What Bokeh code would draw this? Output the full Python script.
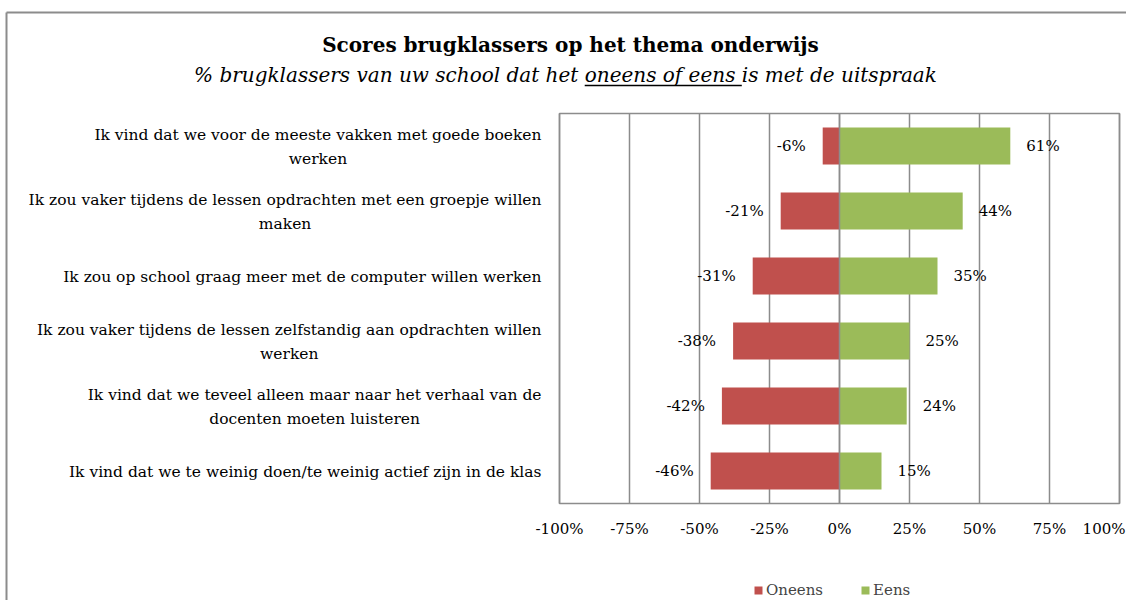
import glob, os, struct
from bokeh.plotting import figure
from bokeh.models import Range1d, Label, Legend, LegendItem, ColumnDataSource
from bokeh.core.properties import value
from bokeh.embed import file_html
from bokeh.resources import INLINE

# ---------------- data ----------------
statements = [
    "Ik vind dat we voor de meeste vakken met goede boeken\nwerken",
    "Ik zou vaker tijdens de lessen opdrachten met een groepje willen\nmaken",
    "Ik zou op school graag meer met de computer willen werken",
    "Ik zou vaker tijdens de lessen zelfstandig aan opdrachten willen\nwerken",
    "Ik vind dat we teveel alleen maar naar het verhaal van de\ndocenten moeten luisteren",
    "Ik vind dat we te weinig doen/te weinig actief zijn in de klas",
]
oneens = [-6, -21, -31, -38, -42, -46]
eens = [61, 44, 35, 25, 24, 15]
series_names = ["Oneens", "Eens"]
tick_values = [-100, -75, -50, -25, 0, 25, 50, 75, 100]
tick_labels = ["-100%", "-75%", "-50%", "-25%", "0%", "25%", "50%", "75%", "100%"]
title_text = "Scores brugklassers op het thema onderwijs"
subtitle_parts = ["% brugklassers van uw school dat het ", "oneens of eens ", "is met de uitspraak"]

# ---------------- styling ----------------
FONT = "DejaVu Serif"
RED = "#C0504D"
GREEN = "#9BBB59"
GRID = "#8c8c8c"
BORDER = "#8c8c8c"
W, H = 1126, 600
X0PX, PXU = 839.0, 2.8        # pixel of 0 % and pixels per %
Y_TOP, ROWPX = 113.0, 65.0    # pixel of plot-area top and row pitch


def xd(px):
    return (px - X0PX) / PXU


def yd(py):
    return 5.5 - (py - Y_TOP) / ROWPX


# ---------------- text measuring (pure python TTF reader) ----------------
def _find_font(name):
    for base in ["/usr/share/fonts", "/usr/local/share/fonts",
                 os.path.expanduser("~/.fonts"), os.path.expanduser("~/.local/share/fonts")]:
        hits = glob.glob(os.path.join(base, "**", name), recursive=True)
        if hits:
            return hits[0]
    return None


def _load_widths(path):
    data = open(path, "rb").read()
    n = struct.unpack(">H", data[4:6])[0]
    tables = {}
    for i in range(n):
        tag, cs, off, ln = struct.unpack(">4sIII", data[12 + 16 * i:28 + 16 * i])
        tables[tag.decode("latin1")] = off
    head = tables["head"]
    upem = struct.unpack(">H", data[head + 18:head + 20])[0]
    hhea = tables["hhea"]
    nhm = struct.unpack(">H", data[hhea + 34:hhea + 36])[0]
    hm = tables["hmtx"]
    adv = [struct.unpack(">H", data[hm + 4 * i:hm + 4 * i + 2])[0] for i in range(nhm)]
    cm = tables["cmap"]
    nsub = struct.unpack(">H", data[cm + 2:cm + 4])[0]
    sub = None
    for i in range(nsub):
        pid, eid, off = struct.unpack(">HHI", data[cm + 4 + 8 * i:cm + 12 + 8 * i])
        fmt = struct.unpack(">H", data[cm + off:cm + off + 2])[0]
        if fmt == 4:
            sub = cm + off
            break
    segx2 = struct.unpack(">H", data[sub + 6:sub + 8])[0]
    seg = segx2 // 2
    ends = struct.unpack(">%dH" % seg, data[sub + 14:sub + 14 + segx2])
    starts = struct.unpack(">%dH" % seg, data[sub + 16 + segx2:sub + 16 + 2 * segx2])
    deltas = struct.unpack(">%dh" % seg, data[sub + 16 + 2 * segx2:sub + 16 + 3 * segx2])
    rpos = sub + 16 + 3 * segx2
    roffs = struct.unpack(">%dH" % seg, data[rpos:rpos + segx2])

    def gid(c):
        for i in range(seg):
            if starts[i] <= c <= ends[i]:
                if roffs[i] == 0:
                    return (c + deltas[i]) & 0xFFFF
                addr = rpos + 2 * i + roffs[i] + 2 * (c - starts[i])
                g = struct.unpack(">H", data[addr:addr + 2])[0]
                return (g + deltas[i]) & 0xFFFF if g else 0
        return 0

    def width(text, size):
        return sum(adv[min(gid(ord(ch)), nhm - 1)] for ch in text) * size / upem
    return width


_measurers = {}


def measure(text, size, style="normal"):
    fname = {"normal": "DejaVuSerif.ttf", "bold": "DejaVuSerif-Bold.ttf",
             "italic": "DejaVuSerif-Italic.ttf"}[style]
    if fname not in _measurers:
        try:
            pth = _find_font(fname)
            _measurers[fname] = _load_widths(pth) if pth else None
        except Exception:
            _measurers[fname] = None
    m = _measurers[fname]
    if m is None:
        return len(text) * size * {"normal": 0.56, "bold": 0.62, "italic": 0.52}[style]
    return m(text, size)


# ---------------- figure ----------------
p = figure(width=W, height=H, output_backend="svg", toolbar_location=None,
           x_range=Range1d(xd(0), xd(W)), y_range=Range1d(yd(H), yd(0)),
           min_border=0)
p.title.visible = False
p.axis.visible = False
p.grid.visible = False
p.outline_line_color = None
p.background_fill_color = "white"
p.border_fill_color = "white"

n = len(statements)
ys = [n - 1 - i for i in range(n)]
y_lo, y_hi = -0.5, n - 0.5
x_lo, x_hi = tick_values[0], tick_values[-1]

# outer chart border (left and top edges are visible)
p.segment(x0=[xd(6), xd(6)], y0=[yd(12), yd(12)], x1=[xd(6), xd(W + 20)], y1=[yd(H + 20), yd(12)],
          line_color=BORDER, line_width=2)

# vertical gridlines
p.segment(x0=tick_values, y0=[y_lo] * len(tick_values), x1=tick_values, y1=[y_hi] * len(tick_values),
          line_color=GRID, line_width=1.5)

src = ColumnDataSource(dict(y=ys, neg=oneens, pos=eens,
                            neg_t=["%d%%" % v for v in oneens],
                            pos_t=["%d%%" % v for v in eens]))

r_neg = p.hbar(y="y", left="neg", right=0, height=0.57, fill_color=RED, line_color=None, source=src)
r_pos = p.hbar(y="y", left=0, right="pos", height=0.57, fill_color=GREEN, line_color=None, source=src)

# zero line (drawn over bars) and plot-area outline
p.segment(x0=[0], y0=[y_lo], x1=[0], y1=[y_hi], line_color=GRID, line_width=1.5)
p.quad(left=[x_lo], right=[x_hi], bottom=[y_lo], top=[y_hi], fill_color=None,
       line_color=GRID, line_width=1.5)

# data labels
p.text(x="neg", y="y", text="neg_t", x_offset=-17, source=src, text_align="right",
       text_baseline="middle", text_font=value(FONT), text_font_size="15px", text_color="black")
p.text(x="pos", y="y", text="pos_t", x_offset=16, source=src, text_align="left",
       text_baseline="middle", text_font=value(FONT), text_font_size="15px", text_color="black")

# x tick labels (the last one is kept inside the canvas)
p.text(x=tick_values[:-1], y=[yd(528)] * (len(tick_values) - 1), text=tick_labels[:-1],
       text_align="center", text_baseline="middle", text_font=value(FONT),
       text_font_size="15px", text_color="black")
p.text(x=tick_values[-1:], y=[yd(528)], text=tick_labels[-1:], x_offset=W - 1 - (X0PX + PXU * x_hi),
       text_align="right", text_baseline="middle", text_font=value(FONT),
       text_font_size="15px", text_color="black")

# category labels: block right edge at x=541 px, lines centred
CAT_SIZE = 15.5
for i, s in enumerate(statements):
    lines = s.split("\n")
    wmax = max(measure(l, CAT_SIZE) for l in lines)
    cx = 541 - wmax / 2.0
    p.add_layout(Label(x=xd(cx), y=ys[i], y_offset=-1, text=s, text_align="center",
                       text_baseline="middle", text_font=FONT, text_font_size="%.1fpx" % CAT_SIZE,
                       text_line_height=1.3, text_color="black"))

# title
tw1 = measure(title_text, 1.0, "bold")
TITLE_SIZE = max(16.0, min(20.0, 515.0 / tw1))
p.add_layout(Label(x=xd(570), y=yd(44), text=title_text, text_align="center",
                   text_baseline="middle", text_font=FONT, text_font_style="bold",
                   text_font_size="%.1fpx" % TITLE_SIZE, text_color="black"))

# subtitle in three parts, middle part underlined
sw1 = sum(measure(t, 1.0, "italic") for t in subtitle_parts)
SUB_SIZE = max(15.0, min(20.0, 801.0 / sw1))
widths = [measure(t, SUB_SIZE, "italic") for t in subtitle_parts]
start = 565 - sum(widths) / 2.0
pos = start
for t, w in zip(subtitle_parts, widths):
    p.add_layout(Label(x=xd(pos), y=yd(74), text=t, text_align="left", text_baseline="middle",
                       text_font=FONT, text_font_style="italic",
                       text_font_size="%.1fpx" % SUB_SIZE, text_color="black"))
    pos += w
u0 = start + widths[0]
u1 = u0 + widths[1]
p.segment(x0=[xd(u0)], y0=[yd(85)], x1=[xd(u1)], y1=[yd(85)], line_color="black", line_width=1.5)

# legend
legend = Legend(items=[LegendItem(label=series_names[0], renderers=[r_neg]),
                       LegendItem(label=series_names[1], renderers=[r_pos])],
                orientation="horizontal", location=(753, 1),
                glyph_width=10, glyph_height=10, label_standoff=3, spacing=37,
                padding=0, margin=0, border_line_color=None, background_fill_alpha=0,
                label_text_font=FONT, label_text_font_size="15px", label_height=16)
p.add_layout(legend, "center")

open("out.html", "w").write(file_html(p, INLINE))
